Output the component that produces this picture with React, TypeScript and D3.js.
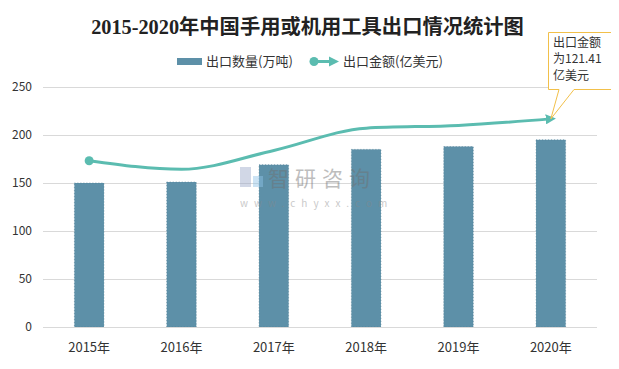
import React, { useEffect, useRef } from 'react';
import * as d3 from 'd3';

const years = ['2015年', '2016年', '2017年', '2018年', '2019年', '2020年'];
const volume = [150, 151, 169, 185, 188, 195]; // 出口数量(万吨)
const amount = [97, 92, 103, 116, 117.6, 121.41]; // 出口金额(亿美元)
const yTicks = [0, 50, 100, 150, 200, 250];

const W = 619;
const H = 369;
const CJK = '"Noto Sans CJK SC", "Noto Sans", sans-serif';

export default function App() {
  const svgRef = useRef<SVGSVGElement | null>(null);

  useEffect(() => {
    if (!svgRef.current) return;
    const svg = d3.select(svgRef.current);
    svg.selectAll('*').remove();

    // outer frame
    svg.append('rect').attr('x', 5.5).attr('y', 3.5).attr('width', 607).attr('height', 361)
      .attr('fill', '#fff').attr('stroke', '#a6a6a6');

    const left = 43, right = 597, top = 87, bottom = 327;

    const x = d3.scaleBand().domain(years).range([left, right]).paddingInner(0.68).paddingOuter(0.34);
    const y = d3.scaleLinear().domain([0, 250]).range([bottom, top]);
    const y2 = d3.scaleLinear().domain([0, 140]).range([bottom, top]);

    // grid
    svg.append('g').selectAll('line').data(yTicks).join('line')
      .attr('x1', left).attr('x2', right)
      .attr('y1', d => Math.round(y(d)) + 0.5).attr('y2', d => Math.round(y(d)) + 0.5)
      .attr('stroke', '#d9d9d9');

    svg.append('g').selectAll('text').data(yTicks).join('text')
      .attr('x', 32).attr('y', d => y(d) + 4).attr('text-anchor', 'end')
      .attr('font-size', 12).attr('fill', '#333').attr('font-family', CJK)
      .text(d => d);

    // bars
    svg.append('g').selectAll('rect').data(volume).join('rect')
      .attr('x', (d, i) => x(years[i])!)
      .attr('y', d => y(d))
      .attr('width', x.bandwidth())
      .attr('height', d => bottom - y(d))
      .attr('fill', '#5d90a8')
      .attr('stroke', '#4a7890').attr('stroke-width', 0.6).attr('stroke-dasharray', '1,2');

    // watermark (drawn over the bars)
    const wm = svg.append('g').attr('opacity', 0.45);
    wm.append('rect').attr('x', 240).attr('y', 167).attr('width', 11).attr('height', 20).attr('fill', '#9aa8c8');
    wm.append('rect').attr('x', 253).attr('y', 176).attr('width', 10).attr('height', 11).attr('fill', '#8fc3e8');
    wm.append('text').attr('x', 268).attr('y', 186).attr('font-size', 21).attr('fill', '#6f6f6f')
      .attr('font-family', CJK).attr('letter-spacing', 6).text('智研咨询');
    wm.append('text').attr('x', 240).attr('y', 207).attr('font-size', 10).attr('fill', '#888')
      .attr('font-family', CJK).attr('letter-spacing', 6).text('www.chyxx.com');

    // axis line
    svg.append('line').attr('x1', left).attr('x2', right).attr('y1', bottom + 0.5).attr('y2', bottom + 0.5)
      .attr('stroke', '#d9d9d9');

    svg.append('g').selectAll('text').data(years).join('text')
      .attr('x', d => x(d)! + x.bandwidth() / 2).attr('y', 352).attr('text-anchor', 'middle')
      .attr('font-size', 13).attr('fill', '#333').attr('font-family', CJK)
      .text(d => d);

    // line
    const teal = '#5bbcb0';
    const defs = svg.append('defs');
    defs.append('marker').attr('id', 'arrow').attr('viewBox', '0 0 10 10').attr('refX', 5).attr('refY', 5)
      .attr('markerWidth', 3.4).attr('markerHeight', 3.4).attr('orient', 'auto')
      .append('path').attr('d', 'M0,0 L10,5 L0,10 z').attr('fill', teal);

    const pts: [number, number][] = amount.map((d, i) => [x(years[i])! + x.bandwidth() / 2, y2(d)]);
    const line = d3.line().curve(d3.curveMonotoneX);
    svg.append('path').attr('d', line(pts)).attr('fill', 'none').attr('stroke', teal)
      .attr('stroke-width', 3).attr('marker-end', 'url(#arrow)');
    svg.append('circle').attr('cx', pts[0][0]).attr('cy', pts[0][1]).attr('r', 4.5).attr('fill', teal);

    // callout
    const [px, py] = pts[pts.length - 1];
    const orange = '#f2c04a';
    svg.append('path')
      .attr('d', `M548.5,32.5 H611.5 V89.5 H574 L${px},${py} L559,89.5 H548.5 Z`)
      .attr('fill', '#fff').attr('stroke', orange).attr('stroke-width', 1);
    const note = ['出口金额', `为${amount[5]}`, '亿美元'];
    svg.append('g').selectAll('text').data(note).join('text')
      .attr('x', 553).attr('y', (d, i) => 46.5 + i * 16.5)
      .attr('font-size', 12).attr('fill', '#333').attr('font-family', CJK)
      .text(d => d);

    // title
    svg.append('text').attr('x', 307.5).attr('y', 34).attr('text-anchor', 'middle')
      .attr('font-size', 20.3).attr('font-weight', 'bold').attr('fill', '#222')
      .attr('font-family', '"Liberation Serif", "Noto Sans CJK SC", serif')
      .text('2015-2020年中国手用或机用工具出口情况统计图');

    // legend
    const lg = svg.append('g').attr('font-family', CJK).attr('font-size', 13).attr('fill', '#333');
    lg.append('rect').attr('x', 177).attr('y', 58).attr('width', 25).attr('height', 7).attr('fill', '#5d90a8');
    lg.append('text').attr('x', 206).attr('y', 66).text('出口数量(万吨)');
    lg.append('line').attr('x1', 313).attr('x2', 334).attr('y1', 61.5).attr('y2', 61.5)
      .attr('stroke', teal).attr('stroke-width', 3).attr('marker-end', 'url(#arrow)');
    lg.append('circle').attr('cx', 314).attr('cy', 61.5).attr('r', 4.5).attr('fill', teal);
    lg.append('text').attr('x', 343).attr('y', 66).text('出口金额(亿美元)');
  }, []);

  return <svg ref={svgRef} width={W} height={H} style={{ display: 'block', margin: '-8px' }} />;
}
